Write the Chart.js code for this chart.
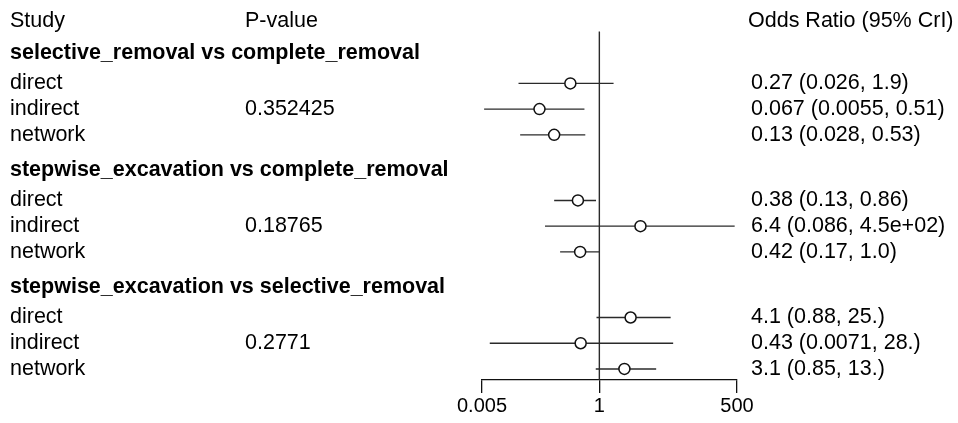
<!DOCTYPE html>
<html>
<head>
<meta charset="utf-8">
<script src="https://cdn.jsdelivr.net/npm/chart.js@4.4.1/dist/chart.umd.min.js"></script>
<style>
  html, body { margin: 0; padding: 0; background: #fff; }
  #wrap { width: 958px; height: 423px; }
</style>
</head>
<body>
<div id="wrap"><canvas id="forestChart"></canvas></div>
<script>
// Data
const comparisons = [
    'selective_removal vs complete_removal',
    'stepwise_excavation vs complete_removal',
    'stepwise_excavation vs selective_removal'
];
const evidenceTypes = ['direct', 'indirect', 'network'];
const pValues = ['0.352425', '0.18765', '0.2771'];
const oddsRatios = [0.27, 0.067, 0.13, 0.38, 6.4, 0.42, 4.1, 0.43, 3.1];
const lowerCrI = [0.026, 0.0055, 0.028, 0.13, 0.086, 0.17, 0.88, 0.0071, 0.85];
const upperCrI = [1.9, 0.51, 0.53, 0.86, 450, 1.0, 25, 28, 13];
const crILabels = [
    '0.27 (0.026, 1.9)', '0.067 (0.0055, 0.51)', '0.13 (0.028, 0.53)',
    '0.38 (0.13, 0.86)', '6.4 (0.086, 4.5e+02)', '0.42 (0.17, 1.0)',
    '4.1 (0.88, 25.)', '0.43 (0.0071, 28.)', '3.1 (0.85, 13.)'
];
const xTicks = [0.005, 1, 500];
const nullEffect = 1;

// Layout in row units (one row = one study line)
const GROUP_STEP = 4.55;
const HEADER_OFFSET = -1.18;
const TITLE_ROW = -2.44;
const LINE_TOP = -2.02;
const Y_MIN = -2.97;
const Y_MAX = 11.53;

const FONT = '"Liberation Sans", Arial, sans-serif';
const TEXT_SIZE = 21.5;
const LINE_COLOR = '#2a2a2a';

function rowPos(g, r) {
    return g * GROUP_STEP + r;
}

// Build datasets
const pointData = [];
const ciDatasets = [];
comparisons.forEach((_, g) => {
    evidenceTypes.forEach((_, r) => {
        const i = g * evidenceTypes.length + r;
        const y = rowPos(g, r);
        pointData.push({ x: oddsRatios[i], y });
        ciDatasets.push({
            type: 'line',
            data: [{ x: lowerCrI[i], y }, { x: upperCrI[i], y }],
            borderColor: LINE_COLOR,
            borderWidth: 1.4,
            pointRadius: 0,
            order: 1,
            clip: false
        });
    });
});

const textPlugin = {
    id: 'forestText',
    afterDraw(chart) {
        const ctx = chart.ctx;
        const yScale = chart.scales.y;
        const leftX = 10, pX = 245, orX = 751;
        ctx.save();
        ctx.fillStyle = '#000';
        ctx.textBaseline = 'middle';
        ctx.textAlign = 'left';

        ctx.font = `${TEXT_SIZE}px ${FONT}`;
        const ty = yScale.getPixelForValue(TITLE_ROW);
        ctx.fillText('Study', leftX, ty);
        ctx.fillText('P-value', pX, ty);
        ctx.fillText('Odds Ratio (95% CrI)', orX - 3, ty);

        comparisons.forEach((name, g) => {
            ctx.font = `bold ${TEXT_SIZE}px ${FONT}`;
            ctx.fillText(name, leftX, yScale.getPixelForValue(rowPos(g, HEADER_OFFSET)));
            ctx.font = `${TEXT_SIZE}px ${FONT}`;
            evidenceTypes.forEach((ev, r) => {
                const i = g * evidenceTypes.length + r;
                const y = yScale.getPixelForValue(rowPos(g, r));
                ctx.fillText(ev, leftX, y);
                ctx.fillText(crILabels[i], orX, y);
                if (ev === 'indirect') ctx.fillText(pValues[g], pX, y);
            });
        });
        ctx.restore();
    }
};

new Chart(document.getElementById('forestChart'), {
    data: {
        datasets: [
            {
                type: 'scatter',
                data: pointData,
                pointStyle: 'circle',
                pointRadius: 5.5,
                pointBackgroundColor: '#fff',
                pointBorderColor: '#111',
                pointBorderWidth: 1.5,
                order: 0,
                clip: false
            },
            ...ciDatasets,
            {
                type: 'line',
                data: [{ x: nullEffect, y: LINE_TOP }, { x: nullEffect, y: Y_MAX }],
                borderColor: LINE_COLOR,
                borderWidth: 1.4,
                pointRadius: 0,
                order: 2,
                clip: false
            }
        ]
    },
    options: {
        responsive: true,
        maintainAspectRatio: false,
        animation: false,
        events: [],
        layout: { padding: { left: 482, right: 221, top: 0, bottom: 4 } },
        plugins: { legend: { display: false }, tooltip: { enabled: false } },
        scales: {
            x: {
                type: 'logarithmic',
                min: 0.005,
                max: 500,
                afterBuildTicks: scale => {
                    scale.ticks = xTicks.map(v => ({ value: v }));
                },
                ticks: {
                    color: '#000',
                    padding: 1,
                    maxRotation: 0,
                    autoSkip: false,
                    font: { family: FONT, size: 20 },
                    callback: v => String(v)
                },
                grid: {
                    display: true,
                    drawOnChartArea: false,
                    drawTicks: true,
                    tickLength: 13,
                    color: '#111',
                    lineWidth: 1.3
                },
                border: { display: true, color: '#111', width: 1.3 }
            },
            y: {
                type: 'linear',
                reverse: true,
                min: Y_MIN,
                max: Y_MAX,
                display: false
            }
        }
    },
    plugins: [textPlugin]
});
</script>
</body>
</html>
